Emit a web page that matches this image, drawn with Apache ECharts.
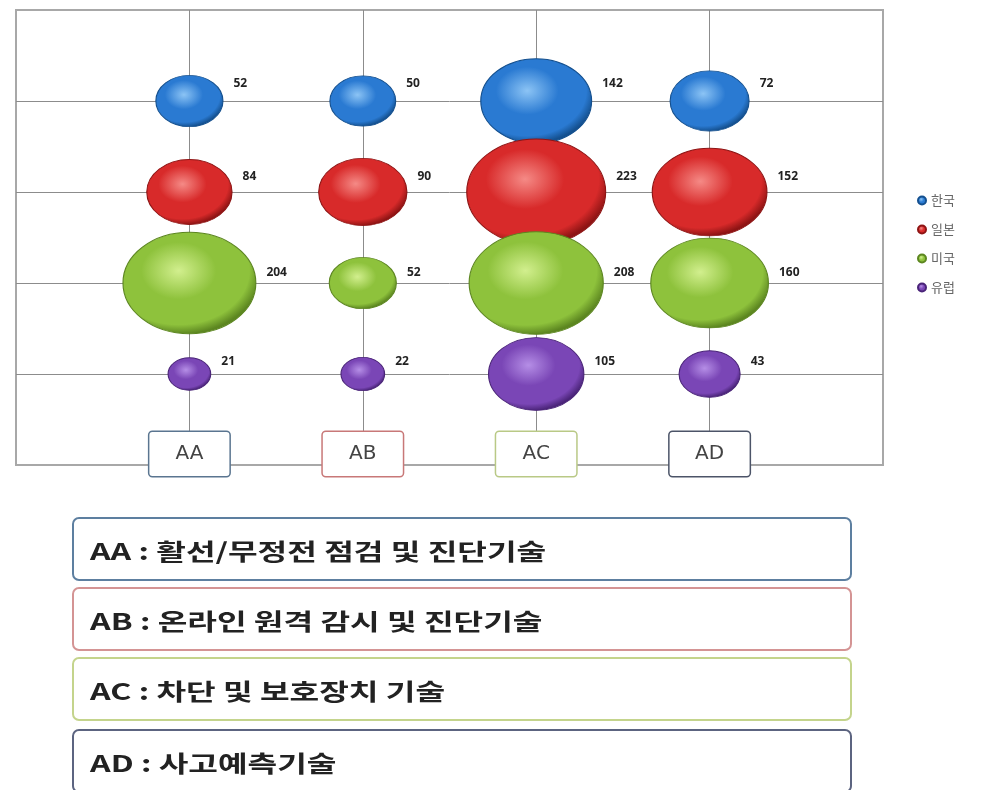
<!DOCTYPE html>
<html>
<head>
<meta charset="utf-8">
<script src="https://cdn.jsdelivr.net/npm/echarts@6/dist/echarts.min.js"></script>
<style>
html,body{margin:0;padding:0;background:#fff;}
#chart{width:981px;height:790px;}
</style>
</head>
<body>
<div id="chart"></div>
<script>
// ---- data ----
var categories = ['AA', 'AB', 'AC', 'AD'];
var countries = ['한국', '일본', '미국', '유럽'];
var korea  = [52, 50, 142, 72];
var japan  = [84, 90, 223, 152];
var usa    = [204, 52, 208, 160];
var europe = [21, 22, 105, 43];
var descriptions = ['활선/무정전 점검 및 진단기술', '온라인 원격 감시 및 진단기술', '차단 및 보호장치 기술', '사고예측기술'];

// ---- styles ----
var seriesValues = [korea, japan, usa, europe];
var rowOf = [4, 3, 2, 1];
var palette = [
  {light: '#8cc4f5', base: '#2a7ad2', dark: '#14508f'},
  {light: '#f58a86', base: '#d82a2a', dark: '#8e1414'},
  {light: '#d2ef8e', base: '#8ec23c', dark: '#5c8620'},
  {light: '#b58ee6', base: '#7a46b6', dark: '#4a2478'}
];
var labelDy = [-17, -15, -10, -12];
var boxColors = ['#5a7590', '#c87878', '#b9c986', '#4c5468'];
var richKeys = ['a', 'b', 'c', 'd'];

function grad(p) {
  return new echarts.graphic.RadialGradient(0.42, 0.38, 0.62, [
    {offset: 0, color: p.light},
    {offset: 0.45, color: p.base},
    {offset: 0.85, color: p.base},
    {offset: 1, color: p.dark}
  ]);
}

var series = countries.map(function (name, s) {
  return {
    name: name,
    type: 'scatter',
    data: categories.map(function (c, i) { return [i + 1, rowOf[s], seriesValues[s][i]]; }),
    symbolSize: function (d) { return [9.3 * Math.sqrt(d[2]), 7.1 * Math.sqrt(d[2])]; },
    itemStyle: {color: grad(palette[s]), borderColor: palette[s].dark, borderWidth: 1, opacity: 1},
    label: {
      show: true,
      position: 'right',
      distance: 10,
      offset: [0, labelDy[s]],
      formatter: function (p) { return p.data[2]; },
      fontFamily: 'Noto Sans',
      fontWeight: 'bold',
      fontSize: 12,
      color: '#222'
    },
    emphasis: {disabled: true},
    z: 3 + s
  };
});

var rich = {};
categories.forEach(function (c, i) {
  rich[richKeys[i]] = {
    width: 80, lineHeight: 20, padding: [12, 0], align: 'center',
    fontSize: 20, fontFamily: 'DejaVu Sans', color: '#444',
    backgroundColor: '#fff', borderColor: boxColors[i], borderWidth: 1.5, borderRadius: 3
  };
});

var graphics = [];
var boxTops = [518, 588, 658, 730];
var descStroke = ['#5d7fa0', '#d49494', '#c4d48c', '#5c6480'];
categories.forEach(function (c, i) {
  graphics.push({
    type: 'rect',
    shape: {x: 73, y: boxTops[i], width: 778, height: 62, r: 6},
    style: {fill: '#fff', stroke: descStroke[i], lineWidth: 2},
    silent: true
  });
  graphics.push({
    type: 'text',
    x: 90, y: boxTops[i] + 33,
    scaleX: 1.4,
    style: {
      text: c + ' : ' + descriptions[i],
      font: 'bold 23px "Noto Sans CJK KR"',
      fill: '#222',
      verticalAlign: 'middle'
    },
    silent: true
  });
});

var chart = echarts.init(document.getElementById('chart'));
chart.setOption({
  backgroundColor: '#fff',
  animation: false,
  grid: {left: 16, top: 10, right: 98, bottom: 325, show: true, borderColor: '#a8a8a8', borderWidth: 2, backgroundColor: 'transparent'},
  legend: {
    orient: 'vertical', left: 912, top: 189,
    icon: 'circle', itemWidth: 8, itemHeight: 8, itemGap: 16,
    textStyle: {fontSize: 13, color: '#666', fontFamily: 'Noto Sans CJK KR'},
    data: countries
  },
  xAxis: [{
    type: 'value', min: 0, max: 5, interval: 1,
    axisLine: {show: false}, axisTick: {show: false}, axisLabel: {show: false},
    splitLine: {show: true, showMinLine: false, showMaxLine: false, lineStyle: {color: '#8c8c8c', width: 1}}
  }, {
    type: 'value', min: 0, max: 5, interval: 1, position: 'bottom', z: 10,
    axisLine: {show: false}, axisTick: {show: false}, splitLine: {show: false},
    axisLabel: {
      show: true, margin: -21,
      formatter: function (v) { var i = v - 1; return (i >= 0 && i < categories.length) ? '{' + richKeys[i] + '|' + categories[i] + '}' : ''; },
      rich: rich
    }
  }],
  yAxis: {
    type: 'value', min: 0, max: 5, interval: 1,
    axisLine: {show: false}, axisTick: {show: false}, axisLabel: {show: false},
    splitLine: {show: true, showMinLine: false, showMaxLine: false, lineStyle: {color: '#8c8c8c', width: 1}}
  },
  series: series,
  graphic: graphics
});
</script>
</body>
</html>
